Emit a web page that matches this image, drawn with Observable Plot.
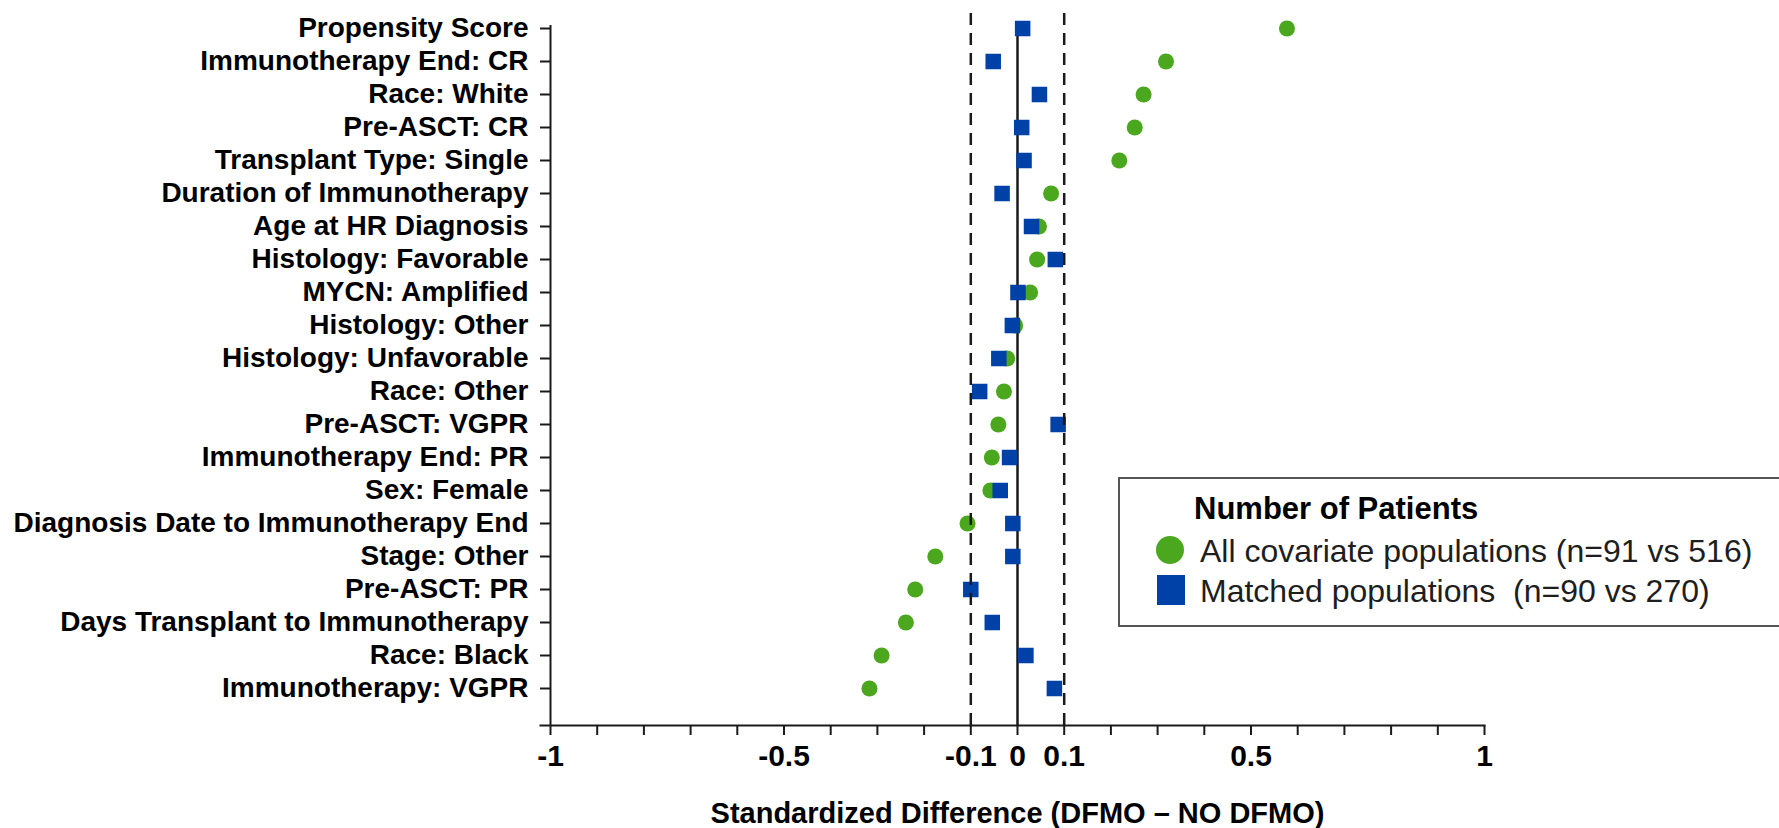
<!DOCTYPE html>
<html>
<head>
<meta charset="utf-8">
<script src="https://cdn.jsdelivr.net/npm/d3@7"></script>
<script src="https://cdn.jsdelivr.net/npm/@observablehq/plot@0.6"></script>
<style>
  html, body { margin: 0; padding: 0; background: #fff; overflow: hidden; }
  #wrap { position: relative; width: 1779px; height: 828px; font-family: "Liberation Sans", Arial, Helvetica, sans-serif; color: #000; }
  #wrap svg { position: absolute; left: 0; top: 0; }
  .lg { position: absolute; line-height: 1; white-space: pre; }
  #lgbox { position: absolute; left: 1118px; top: 477px; width: 700px; height: 150px; border: 2px solid #555; box-sizing: border-box; background: #fff; }
  #lgtitle { left: 1194px; top: 493px; font-size: 31px; font-weight: bold; color: #000; }
  .lgtxt { left: 1200px; font-size: 32px; color: #1e1e1e; }
  .sw { position: absolute; }
</style>
</head>
<body>
<div id="wrap"></div>
<script>
// ---- data ----
const rows = [
  "Propensity Score",
  "Immunotherapy End: CR",
  "Race: White",
  "Pre-ASCT: CR",
  "Transplant Type: Single",
  "Duration of Immunotherapy",
  "Age at HR Diagnosis",
  "Histology: Favorable",
  "MYCN: Amplified",
  "Histology: Other",
  "Histology: Unfavorable",
  "Race: Other",
  "Pre-ASCT: VGPR",
  "Immunotherapy End: PR",
  "Sex: Female",
  "Diagnosis Date to Immunotherapy End",
  "Stage: Other",
  "Pre-ASCT: PR",
  "Days Transplant to Immunotherapy",
  "Race: Black",
  "Immunotherapy: VGPR"
];
const allCovariate = [0.577, 0.318, 0.270, 0.251, 0.218, 0.072, 0.046, 0.042, 0.027, -0.005, -0.022, -0.029, -0.041, -0.055, -0.058, -0.107, -0.176, -0.219, -0.239, -0.291, -0.317];
const matchedPop   = [0.011, -0.052, 0.047, 0.009, 0.014, -0.033, 0.030, 0.081, 0.001, -0.011, -0.040, -0.081, 0.087, -0.017, -0.037, -0.010, -0.010, -0.100, -0.054, 0.018, 0.079];
const xTickValues  = [-1, -0.9, -0.8, -0.7, -0.6, -0.5, -0.4, -0.3, -0.2, -0.1, 0, 0.1, 0.2, 0.3, 0.4, 0.5, 0.6, 0.7, 0.8, 0.9, 1];
const xTickLabels  = [-1, -0.5, -0.1, 0, 0.1, 0.5, 1];
const thresholds   = [-0.1, 0.1];
const xTitle = "Standardized Difference (DFMO \u2013 NO DFMO)";
const legendTitle = "Number of Patients";
const seriesNames = ["All covariate populations (n=91 vs 516)", "Matched populations  (n=90 vs 270)"];
const green = "#4aa71e";
const blue = "#0041a8";
const ink = "#1a1a1a";

const data = rows.map((r, i) => ({row: r, all: allCovariate[i], matched: matchedPop[i]}));

const chart = Plot.plot({
  width: 1779,
  height: 828,
  marginLeft: 550,
  marginRight: 295,
  marginTop: 13,
  marginBottom: 103,
  style: {fontFamily: '"Liberation Sans", Arial, Helvetica, sans-serif', background: "transparent", color: "#000", overflow: "visible"},
  x: {domain: [-1, 1]},
  y: {type: "point", domain: rows, range: [25, 691.67], padding: 0},
  marks: [
    Plot.ruleX([0], {insetTop: 10, stroke: ink, strokeWidth: 2.5}),
    Plot.ruleX([-1], {insetTop: 12, stroke: ink, strokeWidth: 2}),
    Plot.frame({anchor: "bottom", insetLeft: -10, stroke: ink, strokeWidth: 2}),
    Plot.axisX({ticks: xTickValues, tickSize: 10, tickFormat: () => "", stroke: ink, strokeWidth: 2, label: null}),
    Plot.axisX({ticks: xTickLabels, tickSize: 0, tickPadding: 19, tickFormat: d => String(d), fontSize: 30, fontWeight: "bold", label: null}),
    Plot.axisY({tickSize: 10, tickPadding: 12, fontSize: 28, fontWeight: "bold", stroke: ink, strokeWidth: 2, label: null}),
    Plot.dot(data, {x: "all", y: "row", r: 8, fill: green, stroke: null}),
    Plot.dot(data, {x: "matched", y: "row", r: 8.75, symbol: "square", fill: blue, stroke: null}),
    Plot.ruleX(thresholds, {stroke: ink, strokeWidth: 2.5, strokeDasharray: "12,8"}),
    Plot.text([xTitle], {frameAnchor: "bottom", dy: 88, fontSize: 29, fontWeight: "bold", lineAnchor: "middle", fill: "#000"})
  ]
});

const wrap = document.getElementById("wrap");
wrap.appendChild(chart);

// legend (inside plot area, HTML overlay)
const box = document.createElement("div"); box.id = "lgbox"; wrap.appendChild(box);
const t = document.createElement("div"); t.className = "lg"; t.id = "lgtitle"; t.textContent = legendTitle; wrap.appendChild(t);
const c = document.createElement("div"); c.className = "sw";
Object.assign(c.style, {left: "1156px", top: "536px", width: "28px", height: "28px", borderRadius: "50%", background: green});
wrap.appendChild(c);
const s = document.createElement("div"); s.className = "sw";
Object.assign(s.style, {left: "1157px", top: "575px", width: "28px", height: "30px", background: blue});
wrap.appendChild(s);
const t1 = document.createElement("div"); t1.className = "lg lgtxt"; t1.style.top = "535px"; t1.textContent = seriesNames[0]; wrap.appendChild(t1);
const t2 = document.createElement("div"); t2.className = "lg lgtxt"; t2.style.top = "575px"; t2.textContent = seriesNames[1]; wrap.appendChild(t2);
</script>
</body>
</html>
